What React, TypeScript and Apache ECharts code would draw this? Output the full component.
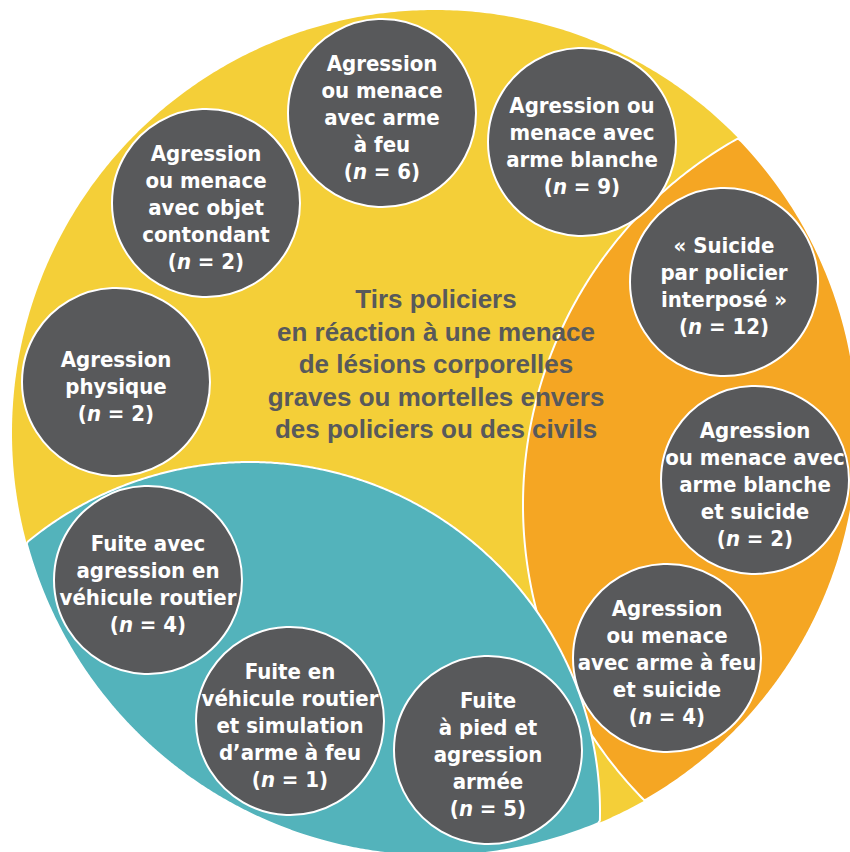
import React, { useEffect, useRef } from 'react';
import * as echarts from 'echarts';

// Incident categories (one dark disc each) and their counts
const categories = [
  'Agression\nou menace\navec arme\nà feu',
  'Agression ou\nmenace avec\narme blanche',
  'Agression\nou menace\navec objet\ncontondant',
  'Agression\nphysique',
  '« Suicide\npar policier\ninterposé »',
  'Agression\nou menace avec\narme blanche\net suicide',
  'Agression\nou menace\navec arme à feu\net suicide',
  'Fuite\nà pied et\nagression\narmée',
  'Fuite en\nvéhicule routier\net simulation\nd’arme à feu',
  'Fuite avec\nagression en\nvéhicule routier',
];
const counts = [6, 9, 2, 2, 12, 2, 4, 5, 1, 4];

const centreTitle = [
  'Tirs policiers',
  'en réaction à une menace',
  'de lésions corporelles',
  'graves ou mortelles envers',
  'des policiers ou des civils',
];

// Layout of the discs on the 850 x 852 canvas
const bubbleX = [382, 582, 206, 116, 724, 755, 667, 488, 290, 148];
const bubbleY = [113, 142, 203, 382, 282, 480, 658, 750, 721, 580];

// Background zones
const OUTER = { cx: 435, cy: 433, r: 423 };
const ORANGE_ZONE = { cx: 943, cy: 505, r: 420 };
const TEAL_ZONE = { cx: 250, cy: 812, r: 350 };

const YELLOW = '#f4cf38';
const ORANGE = '#f5a623';
const TEAL = '#53b3bb';
const GREY = '#58595b';

type Circ = { cx: number; cy: number; r: number };

// Boundary of the intersection of circles, traced by rays from an interior point
function zoneOutline(circles: Circ[], px: number, py: number, steps = 720): number[][] {
  const pts: number[][] = [];
  for (let i = 0; i < steps; i++) {
    const th = (i / steps) * Math.PI * 2;
    const dx = Math.cos(th);
    const dy = Math.sin(th);
    let t = Infinity;
    for (const c of circles) {
      const ox = px - c.cx;
      const oy = py - c.cy;
      const b = dx * ox + dy * oy;
      const q = ox * ox + oy * oy - c.r * c.r;
      const tt = -b + Math.sqrt(b * b - q);
      if (tt < t) t = tt;
    }
    pts.push([px + dx * t, py + dy * t]);
  }
  return pts;
}

const yellowPts = zoneOutline([OUTER], OUTER.cx, OUTER.cy);
const orangePts = zoneOutline([OUTER, ORANGE_ZONE], 700, 500);
const tealPts = zoneOutline([OUTER, TEAL_ZONE], 250, 700);

const bubbleFont = "'Liberation Sans Narrow', 'DejaVu Sans Condensed', 'Roboto', sans-serif";

export default function App() {
  const ref = useRef<HTMLDivElement>(null);

  useEffect(() => {
    if (!ref.current) return;
    const chart = echarts.init(ref.current, undefined, { renderer: 'svg' });

    const option: any = {
      animation: false,
      grid: { left: 0, right: 0, top: 0, bottom: 0 },
      xAxis: { type: 'value', min: 0, max: 850, show: false },
      yAxis: { type: 'value', min: 0, max: 852, inverse: true, show: false },
      graphic: [
        {
          type: 'text',
          x: 436,
          y: 364,
          z: 10,
          style: {
            text: centreTitle.join('\n'),
            fill: GREY,
            font: "bold 26px 'Liberation Sans', Arial, sans-serif",
            align: 'center',
            verticalAlign: 'middle',
            lineHeight: 32.5,
          },
        },
      ],
      series: [
        {
          type: 'custom',
          silent: true,
          z: 1,
          data: [[0, 0]],
          renderItem: (_params: any, api: any) => {
            const map = (pts: number[][]) => pts.map((p) => api.coord(p));
            return {
              type: 'group',
              children: [
                { type: 'polygon', shape: { points: map(yellowPts) }, style: { fill: YELLOW } },
                {
                  type: 'polygon',
                  shape: { points: map(orangePts) },
                  style: { fill: ORANGE, stroke: '#ffffff', lineWidth: 2 },
                },
                {
                  type: 'polygon',
                  shape: { points: map(tealPts) },
                  style: { fill: TEAL, stroke: '#ffffff', lineWidth: 2 },
                },
              ],
            };
          },
        },
        {
          type: 'scatter',
          silent: true,
          z: 5,
          symbol: 'circle',
          symbolSize: 188,
          itemStyle: { color: GREY, borderColor: '#ffffff', borderWidth: 2, opacity: 1 },
          data: categories.map((_, i) => [bubbleX[i], bubbleY[i]]),
          label: {
            show: true,
            position: 'inside',
            offset: [0, 4],
            formatter: (p: any) => `${categories[p.dataIndex]}\n({i|n} = ${counts[p.dataIndex]})`,
            color: '#ffffff',
            fontSize: 22,
            fontWeight: 'bold',
            fontFamily: bubbleFont,
            lineHeight: 27,
            align: 'center',
            rich: {
              i: {
                color: '#ffffff',
                fontSize: 22,
                fontWeight: 'bold',
                fontStyle: 'italic',
                fontFamily: bubbleFont,
                lineHeight: 27,
              },
            },
          },
        },
      ],
    };

    chart.setOption(option);
    return () => chart.dispose();
  }, []);

  return (
    <div
      ref={ref}
      style={{ position: 'absolute', left: 0, top: 0, width: 850, height: 852, background: '#ffffff' }}
    />
  );
}
